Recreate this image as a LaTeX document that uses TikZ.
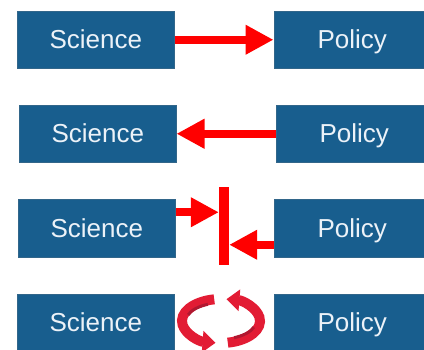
\documentclass[tikz,border=0pt]{standalone}
\usepackage{fontspec}
\setmainfont{Liberation Sans}
\usetikzlibrary{arrows.meta, positioning}

\definecolor{boxblue}{RGB}{24,94,142}
\definecolor{boxtext}{RGB}{236,242,248}
\definecolor{ringred}{RGB}{226,28,52}
\definecolor{ringdark}{RGB}{176,24,48}

\begin{document}
\begin{tikzpicture}[x=1pt, y=1pt,
    box/.style={rectangle, fill=boxblue, draw=boxblue!75!gray, line width=0.5pt,
        minimum width=157pt, minimum height=57pt, inner sep=0pt,
        text height=21pt, text depth=3pt,
        text=boxtext, font=\fontsize{26}{30}\selectfont},
    push/.style={red, line width=8pt, -{Triangle[length=28pt, width=28pt]}},
    turn/.style={ringred, line width=10pt, -{Triangle[length=13pt, width=21pt]}}]
    \useasboundingbox (0,0) rectangle (424,-350);
    \clip (0,0) rectangle (424,-350);

    % science pushes policy
    \node[box, anchor=north west] (sci1) at (17,-11) {Science};
    \node[box, right=99pt of sci1] (pol1) {Policy};
    \draw[push] (sci1) -- (pol1);

    % policy pushes science
    \node[box, anchor=north west] (sci2) at (19,-105) {Science};
    \node[box, right=99pt of sci2] (pol2) {Policy};
    \draw[push] (pol2) -- (sci2);

    % both push against a wall
    \node[box, anchor=north west, minimum height=58pt] (sci3) at (18,-199) {Science};
    \node[box, right=98pt of sci3, minimum height=58pt] (pol3) {Policy};
    \node[fill=red, minimum width=10pt, minimum height=78pt, inner sep=0pt] (wall) at (224,-226) {};
    \draw[push] ([yshift=16pt]sci3.east) -- ([yshift=16pt]sci3.east -| wall.west);
    \draw[push] ([yshift=-16.5pt]pol3.west) -- ([yshift=-16.5pt]pol3.west -| wall.east);

    % going round in a loop
    \node[box, anchor=north west] (sci4) at (17,-294) {Science};
    \node[box, right=99pt of sci4] (pol4) {Policy};
    \coordinate (loop) at (221,-321);
    \draw[turn] ([shift={(100:39pt and 22pt)}]loop)
        arc[start angle=100, end angle=262, x radius=39pt, y radius=22pt];
    \draw[turn] ([shift={(-80:39pt and 22pt)}]loop)
        arc[start angle=-80, end angle=82, x radius=39pt, y radius=22pt];
    % darker inner face of the ribbons
    \draw[ringdark, line width=3pt] ([shift={(112:35pt and 18pt)}]loop)
        arc[start angle=112, end angle=160, x radius=35pt, y radius=18pt];
    \draw[ringdark, line width=3pt] ([shift={(-68:35pt and 18pt)}]loop)
        arc[start angle=-68, end angle=-20, x radius=35pt, y radius=18pt];
\end{tikzpicture}
\end{document}
